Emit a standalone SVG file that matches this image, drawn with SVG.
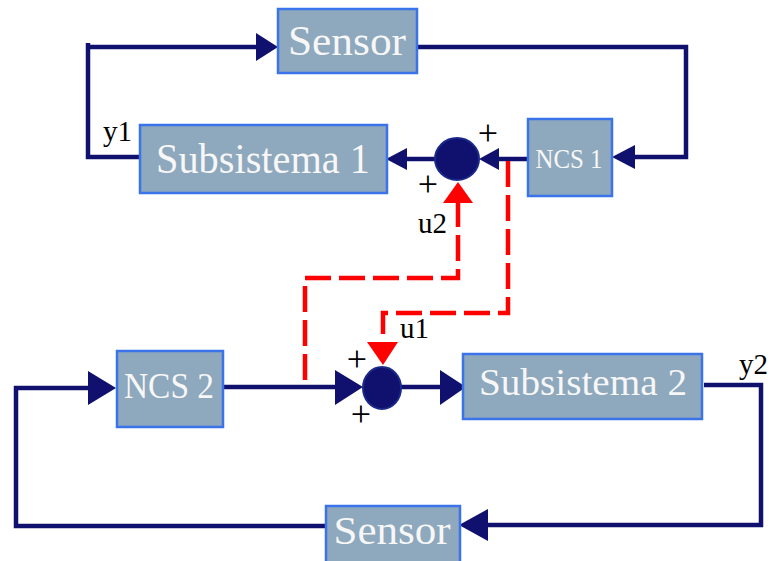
<svg xmlns="http://www.w3.org/2000/svg" width="773" height="561" viewBox="0 0 773 561">
<style>
.box{fill:#8ea8bd;stroke:#3b73ea;stroke-width:2.5}
.bt{fill:#f7f7f7;font-family:"Liberation Serif","DejaVu Serif",serif;text-anchor:middle}
.lbl{fill:#000;font-family:"Liberation Serif","DejaVu Serif",serif;font-size:29px}
.pl{fill:#000;font-family:"Liberation Serif","DejaVu Serif",serif;font-size:36px;text-anchor:middle}
.ln{fill:none;stroke:#10106e;stroke-width:4.5}
.ah{fill:#10106e}
.rd{fill:none;stroke:#ff0000;stroke-width:4.5;stroke-dasharray:26 8}
.rah{fill:#ff0000}
.sum{fill:#10106e;stroke:#1a2a8a;stroke-width:2}
</style>
<rect width="773" height="561" fill="#ffffff"/>
<g id="connectors">
  <path class="ln" d="M417,47 H686 V157 H633"/>
  <polygon class="ah" points="612,157 635,145 635,169"/>
  <path class="ln" d="M528,159 H497"/>
  <polygon class="ah" points="479,159 499,148 499,170"/>
  <path class="ln" d="M436,159 H405"/>
  <polygon class="ah" points="386,159 407,148 407,170"/>
  <path class="ln" d="M140,157 H88 V43 M86,47 H258"/>
  <polygon class="ah" points="278,47 256,33 256,61"/>
  <path class="ln" d="M223,387 H337"/>
  <polygon class="ah" points="363,387 335,370 335,405"/>
  <path class="ln" d="M401,387 H442"/>
  <polygon class="ah" points="466,387 440,370 440,405"/>
  <path class="ln" d="M704,385 H761 V525 H486"/>
  <polygon class="ah" points="459,525 488,509 488,541"/>
  <path class="ln" d="M326,526 H16 V388 H90"/>
  <polygon class="ah" points="116,388 88,371 88,405"/>
  <path class="rd" d="M305,380 V278 H458 V202"/>
  <polygon class="rah" points="458,182 443,203 473,203"/>
  <path class="rd" d="M508,161 V313 H383 V343"/>
  <polygon class="rah" points="383,365 367,342 398,342"/>
</g>
<g id="sensor1">
  <rect class="box" x="278" y="9" width="139" height="64"/>
  <text class="bt" x="347" y="55" font-size="42" textLength="118" lengthAdjust="spacingAndGlyphs">Sensor</text>
</g>
<g id="subsistema1">
  <rect class="box" x="140" y="125" width="247" height="68"/>
  <text class="bt" x="263" y="173" font-size="42" textLength="214" lengthAdjust="spacingAndGlyphs">Subsistema 1</text>
</g>
<g id="ncs1">
  <rect class="box" x="528" y="119" width="84" height="77"/>
  <text class="bt" x="569" y="168" font-size="28" textLength="67" lengthAdjust="spacingAndGlyphs">NCS 1</text>
</g>
<g id="sum1">
  <ellipse class="sum" cx="457" cy="159" rx="22" ry="21"/>
</g>
<g id="ncs2">
  <rect class="box" x="117" y="351" width="106" height="76"/>
  <text class="bt" x="169" y="398" font-size="36" textLength="90" lengthAdjust="spacingAndGlyphs">NCS 2</text>
</g>
<g id="sum2">
  <ellipse class="sum" cx="382" cy="388" rx="19" ry="21"/>
</g>
<g id="subsistema2">
  <rect class="box" x="463" y="354" width="239" height="65"/>
  <text class="bt" x="583" y="395" font-size="38" textLength="208" lengthAdjust="spacingAndGlyphs">Subsistema 2</text>
</g>
<g id="sensor2">
  <rect class="box" x="326" y="506" width="134" height="60"/>
  <text class="bt" x="392" y="544" font-size="40" textLength="117" lengthAdjust="spacingAndGlyphs">Sensor</text>
</g>
<g id="labels">
  <text class="lbl" x="103" y="141">y1</text>
  <text class="lbl" x="418" y="233">u2</text>
  <text class="lbl" x="400" y="338">u1</text>
  <text class="lbl" x="739" y="374">y2</text>
  <text class="pl" x="488" y="145">+</text>
  <text class="pl" x="428" y="196">+</text>
  <text class="pl" x="357" y="371">+</text>
  <text class="pl" x="361" y="426">+</text>
</g>
</svg>
